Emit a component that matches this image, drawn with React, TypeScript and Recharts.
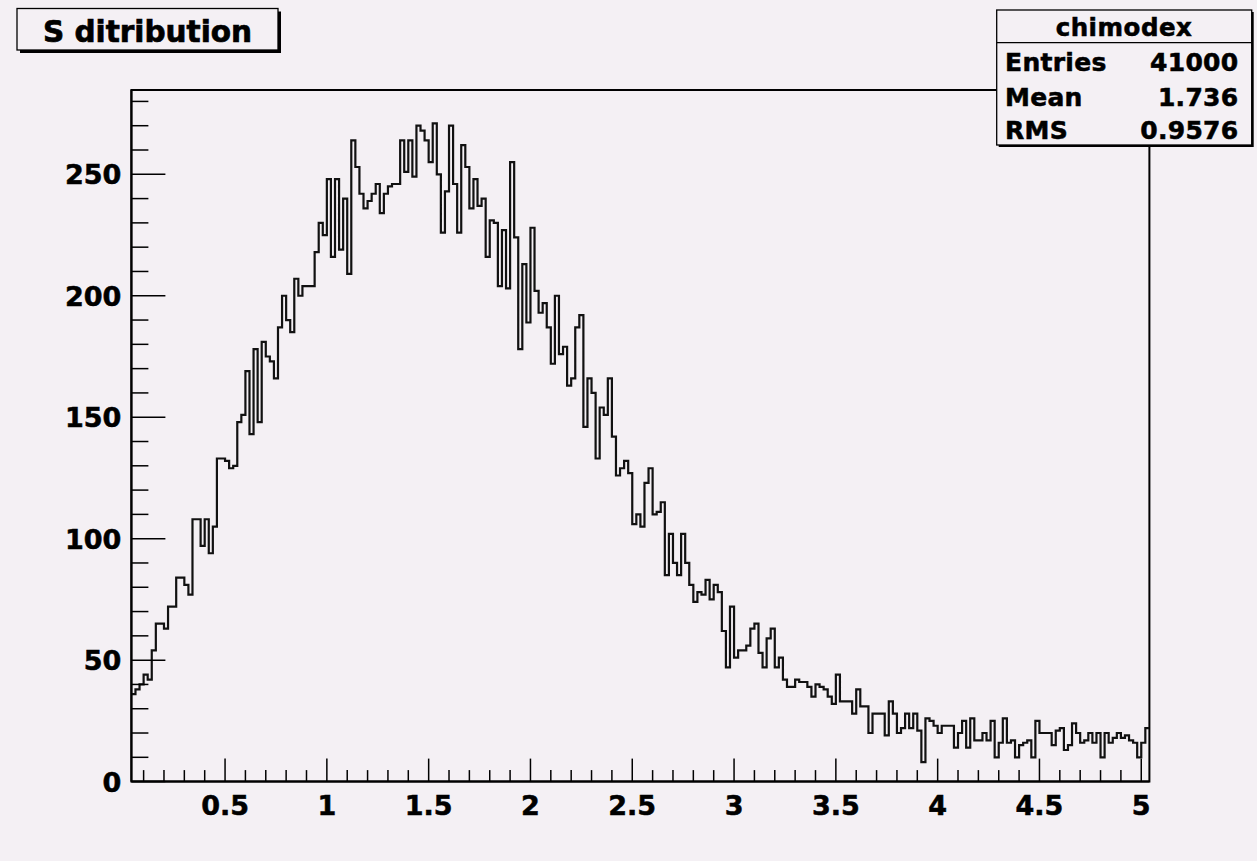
import React from 'react';
import { LineChart, Line, XAxis, YAxis, ReferenceArea } from 'recharts';

// ---- histogram definition ----
const X_MIN = 0.04;
const X_MAX = 5.04;
const BIN_WIDTH = 0.02;
const Y_MAX = 284.7;

// bin contents, 250 bins from 0.04 to 5.04
const binCounts = [
  36, 38, 40, 44, 42, 54, 65, 65, 63, 72,
  72, 84, 84, 81, 77, 108, 108, 97, 108, 94,
  105, 133, 133, 132, 129, 130, 148, 151, 169, 143,
  178, 148, 181, 175, 173, 166, 187, 200, 190, 185,
  207, 200, 204, 204, 204, 218, 230, 225, 248, 216,
  248, 219, 240, 209, 264, 253, 242, 236, 239, 242,
  246, 234, 242, 245, 246, 246, 264, 251, 264, 249,
  270, 268, 264, 255, 271, 250, 226, 243, 270, 246,
  226, 262, 253, 236, 248, 237, 240, 216, 231, 230,
  204, 227, 203, 255, 224, 178, 213, 189, 228, 202,
  193, 197, 187, 172, 200, 176, 179, 163, 166, 187,
  192, 146, 166, 160, 133, 154, 151, 166, 142, 126,
  129, 132, 127, 106, 110, 105, 123, 129, 110, 111,
  115, 85, 102, 90, 85, 102, 90, 81, 74, 78,
  77, 83, 75, 81, 78, 62, 47, 72, 51, 54,
  54, 56, 63, 65, 53, 47, 59, 63, 47, 51,
  42, 39, 39, 42, 41, 41, 39, 35, 40, 39,
  38, 35, 32, 44, 33, 33, 33, 28, 38, 31,
  31, 20, 28, 28, 28, 19, 33, 28, 20, 22,
  28, 22, 28, 21, 8, 26, 25, 23, 20, 23,
  23, 23, 14, 20, 25, 14, 26, 17, 17, 20,
  17, 25, 10, 16, 26, 16, 17, 10, 15, 16,
  17, 10, 25, 20, 20, 20, 15, 21, 22, 13,
  15, 24, 20, 16, 17, 20, 16, 20, 10, 20,
  16, 18, 20, 18, 19, 17, 16, 10, 16, 22,
];

// axis tick labels
const xMajorTicks = [0.5, 1, 1.5, 2, 2.5, 3, 3.5, 4, 4.5, 5];
const xMajorLabels = ['0.5', '1', '1.5', '2', '2.5', '3', '3.5', '4', '4.5', '5'];
const yMajorTicks = [0, 50, 100, 150, 200, 250];
const yMajorLabels = ['0', '50', '100', '150', '200', '250'];

// texts
const histTitle = 'S ditribution';
const statsName = 'chimodex';
const statsLabels = ['Entries', 'Mean', 'RMS'];
const statsValues = ['41000', '1.736', '0.9576'];

// ---- derived ----
const histData = [
  ...binCounts.map((c, i) => ({ x: X_MIN + i * BIN_WIDTH, y: c })),
  { x: X_MAX, y: binCounts[binCounts.length - 1] },
];
const xAllTicks = Array.from({ length: 50 }, (_, i) => (i + 1) / 10);
const yAllTicks = Array.from({ length: 29 }, (_, i) => i * 10);

const BG = '#F4F0F4';
const FONT = '"DejaVu Sans", Arial, sans-serif';
const TXT = { fontFamily: FONT, fontWeight: 'bold' as const, fill: '#000', stroke: '#000', strokeWidth: 0.55 };

const XTick = (props: any) => {
  const { x, y, payload } = props;
  const v = payload.value as number;
  const idx = xMajorTicks.findIndex((t) => Math.abs(t - v) < 1e-6);
  const major = idx >= 0;
  const len = major ? 23 : 11.5;
  return (
    <g>
      <line x1={x} y1={y} x2={x} y2={y - len} stroke="#000" strokeWidth={1.5} />
      {major && (
        <text x={x} y={y + 33} textAnchor="middle" fontSize={27} {...TXT}>
          {xMajorLabels[idx]}
        </text>
      )}
    </g>
  );
};

const YTick = (props: any) => {
  const { x, y, payload } = props;
  const v = payload.value as number;
  const idx = yMajorTicks.indexOf(v);
  const major = idx >= 0;
  const len = major ? 34 : 17;
  return (
    <g>
      <line x1={x} y1={y} x2={x + len} y2={y} stroke="#000" strokeWidth={1.5} />
      {major && (
        <text x={x - 10} y={y + 10} textAnchor="end" fontSize={27} {...TXT}>
          {yMajorLabels[idx]}
        </text>
      )}
    </g>
  );
};

export default function App() {
  return (
    <div style={{ position: 'absolute', left: 0, top: 0, width: 1257, height: 861, background: BG, overflow: 'hidden' }}>
      <LineChart
        width={1257}
        height={861}
        data={histData}
        margin={{ top: 90, right: 107.6, bottom: 39.4, left: 71.4 }}
      >
        <XAxis
          dataKey="x"
          type="number"
          domain={[X_MIN, X_MAX]}
          allowDataOverflow
          ticks={xAllTicks}
          interval={0}
          tickSize={0}
          tickMargin={0}
          tickLine={false}
          axisLine={{ stroke: '#000', strokeWidth: 2 }}
          tick={<XTick />}
          height={40}
        />
        <YAxis
          type="number"
          domain={[0, Y_MAX]}
          allowDataOverflow
          ticks={yAllTicks}
          interval={0}
          tickSize={0}
          tickMargin={0}
          tickLine={false}
          axisLine={{ stroke: '#000', strokeWidth: 2 }}
          tick={<YTick />}
          width={60}
        />
        <ReferenceArea x1={X_MIN} x2={X_MAX} y1={0} y2={Y_MAX} fill="none" fillOpacity={0} stroke="#000" strokeWidth={2} />
        <Line
          type="stepAfter"
          dataKey="y"
          stroke="#111"
          strokeWidth={2.2}
          dot={false}
          activeDot={false}
          isAnimationActive={false}
        />
      </LineChart>
      <svg width={1257} height={861} style={{ position: 'absolute', left: 0, top: 0, pointerEvents: 'none' }}>
        {/* title box */}
        <rect x={20} y={11.5} width={261} height={41.5} fill="#000" />
        <rect x={17} y={8.5} width={261} height={41.5} fill={BG} stroke="#000" strokeWidth={1.3} />
        <text x={147.5} y={41.7} textAnchor="middle" fontSize={29.5} {...TXT} strokeWidth={0.7}>
          {histTitle}
        </text>
        {/* stats box */}
        <rect x={998.7} y={12} width={255} height={135} fill="#000" />
        <rect x={996.7} y={10} width={255} height={135} fill={BG} stroke="#000" strokeWidth={1.3} />
        <line x1={996.7} y1={42.7} x2={1251.7} y2={42.7} stroke="#000" strokeWidth={1.3} />
        <text x={1124} y={36} textAnchor="middle" fontSize={24.5} letterSpacing={0.5} {...TXT}>
          {statsName}
        </text>
        {statsLabels.map((lab, i) => (
          <g key={lab}>
            <text x={1005} y={[70.5, 106, 139][i]} fontSize={25} letterSpacing={0.3} {...TXT}>
              {lab}
            </text>
            <text x={1238.5} y={[70.5, 106, 139][i]} textAnchor="end" fontSize={25} letterSpacing={0.3} {...TXT}>
              {statsValues[i]}
            </text>
          </g>
        ))}
      </svg>
    </div>
  );
}
